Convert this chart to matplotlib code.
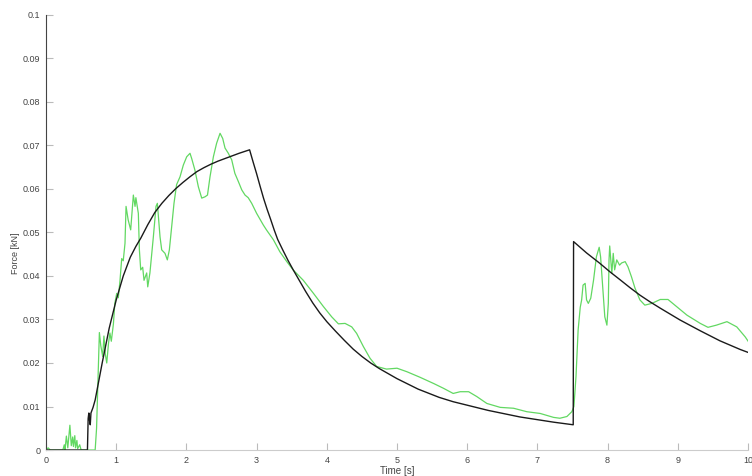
import numpy as np
import matplotlib
matplotlib.use("Agg")
import matplotlib.pyplot as plt

plt.rcParams['font.family'] = ['Liberation Sans', 'DejaVu Sans']

# reference (model) force, black
t_model = [0, 0.59, 0.60, 0.61, 0.62, 0.63, 0.64, 0.67, 0.70, 0.80, 0.90, 1.00,
           1.10, 1.20, 1.28, 1.35, 1.45, 1.55, 1.65, 1.75, 1.85, 1.95, 2.05,
           2.15, 2.25, 2.35, 2.45, 2.55, 2.65, 2.75, 2.90,
           2.95, 3.00, 3.05, 3.10, 3.15, 3.20, 3.25, 3.30, 3.375, 3.45, 3.525,
           3.60, 3.70, 3.80, 3.90, 4.00, 4.125, 4.25, 4.375, 4.50, 4.625, 4.75,
           5.00, 5.30, 5.60, 5.80, 6.30, 6.75, 7.23, 7.51, 7.515,
           7.70, 7.89, 8.03, 8.18, 8.32, 8.46, 8.60, 8.75, 9.03, 9.32, 9.60,
           9.89, 10.04]
f_model = [0, 0, 0.0072, 0.0085, 0.0068, 0.0058, 0.0085, 0.0098, 0.0115, 0.0200,
           0.0280, 0.0345, 0.0400, 0.0443, 0.0468, 0.0487, 0.0518, 0.0546,
           0.0567, 0.0585, 0.0601, 0.0615, 0.0628, 0.0640, 0.0649, 0.0657,
           0.0664, 0.0670, 0.0676, 0.0682, 0.0690,
           0.0662, 0.0635, 0.0606, 0.0578, 0.0553, 0.0530, 0.0506, 0.0484,
           0.0459, 0.0435, 0.0413, 0.0392, 0.0364, 0.0338, 0.0315, 0.0295,
           0.0273, 0.0252, 0.0232, 0.0215, 0.0200, 0.0187,
           0.0164, 0.0140, 0.0121, 0.0111, 0.0091, 0.0076, 0.0064, 0.0058, 0.0479,
           0.0453, 0.0429, 0.0410, 0.0391, 0.0373, 0.0356, 0.0341, 0.0326,
           0.0299, 0.0274, 0.0251, 0.0231, 0.0222]

# measured force, green
t_meas = [0.00, 0.03, 0.06, 0.24, 0.26, 0.27, 0.29, 0.31, 0.34, 0.36, 0.38, 0.39,
          0.41, 0.42, 0.44, 0.45, 0.48, 0.50, 0.70, 0.72, 0.745, 0.76, 0.78,
          0.807, 0.825, 0.845, 0.865, 0.89, 0.91, 0.93, 0.96, 0.98, 1.007,
          1.03, 1.054, 1.078, 1.10, 1.125, 1.14, 1.17, 1.206, 1.244, 1.268,
          1.28, 1.315, 1.33, 1.349, 1.377, 1.396, 1.434, 1.449, 1.48, 1.529,
          1.567, 1.586, 1.624, 1.648, 1.695, 1.728, 1.757, 1.79, 1.823, 1.86,
          1.909, 1.956, 2.004, 2.051, 2.075, 2.12, 2.17, 2.218, 2.265, 2.30,
          2.336, 2.384, 2.43, 2.479, 2.517, 2.55, 2.597, 2.645, 2.69, 2.74,
          2.788, 2.835, 2.88, 2.93, 3.00, 3.096, 3.14, 3.24, 3.33, 3.43, 3.52,
          3.665, 3.81, 3.95, 4.07, 4.165, 4.26, 4.355, 4.425, 4.52, 4.615,
          4.71, 4.85, 5.00, 5.14, 5.33, 5.52, 5.66, 5.80, 5.90, 6.02, 6.135,
          6.28, 6.47, 6.66, 6.85, 7.04, 7.23, 7.32, 7.42, 7.49, 7.52, 7.55,
          7.58, 7.61, 7.63, 7.65, 7.68, 7.70, 7.725, 7.76, 7.80, 7.84, 7.88,
          7.90, 7.93, 7.96, 7.99, 8.01, 8.02, 8.03, 8.06, 8.08, 8.10, 8.13,
          8.17, 8.20, 8.25, 8.29, 8.34, 8.39, 8.46, 8.53, 8.63, 8.75, 8.86,
          8.98, 9.13, 9.32, 9.43, 9.55, 9.70, 9.84, 9.96, 10.04]
f_meas = [0.0000, 0.0005, 0.0000, 0.0000, 0.0012, 0.0000, 0.0032, 0.0005,
          0.0057, 0.0010, 0.0030, 0.0008, 0.0033, 0.0005, 0.0022, 0.0003,
          0.0012, 0.0000, 0.0000, 0.0050, 0.0184, 0.0270, 0.0240, 0.0215,
          0.0262, 0.0220, 0.0200, 0.0245, 0.0269, 0.0250, 0.0290, 0.0337,
          0.0360, 0.0350, 0.0390, 0.0440, 0.0435, 0.0475, 0.0560, 0.0529,
          0.0506, 0.0586, 0.0560, 0.0580, 0.0544, 0.0460, 0.0414, 0.0420,
          0.0390, 0.0407, 0.0375, 0.0407, 0.0490, 0.0560, 0.0567, 0.0490,
          0.0460, 0.0452, 0.0437, 0.0460, 0.0513, 0.0567, 0.0610, 0.0628,
          0.0655, 0.0674, 0.0682, 0.0670, 0.0644, 0.0605, 0.0579, 0.0582,
          0.0586, 0.0628, 0.0674, 0.0705, 0.0728, 0.0716, 0.0694, 0.0682,
          0.0667, 0.0636, 0.0617, 0.0598, 0.0586, 0.0580, 0.0567, 0.0544,
          0.0517, 0.0506, 0.0483, 0.0456, 0.0433, 0.0414, 0.0390, 0.0360,
          0.0330, 0.0306, 0.0290, 0.0291, 0.0283, 0.0268, 0.0238, 0.0211,
          0.0192, 0.0186, 0.0188, 0.0180, 0.0167, 0.0153, 0.0142, 0.0130,
          0.0134, 0.0134, 0.0123, 0.0107, 0.0098, 0.0096, 0.0088, 0.0084,
          0.0075, 0.0073, 0.0077, 0.0088, 0.0100, 0.0170, 0.0276, 0.0328,
          0.0345, 0.0379, 0.0383, 0.0345, 0.0337, 0.0349, 0.0391, 0.0444,
          0.0466, 0.0444, 0.0375, 0.0306, 0.0287, 0.0337, 0.0437, 0.0469,
          0.0406, 0.0452, 0.0414, 0.0437, 0.0425, 0.0430, 0.0433, 0.0421,
          0.0398, 0.0372, 0.0345, 0.0333, 0.0337, 0.0346, 0.0346, 0.0330,
          0.0310, 0.0291, 0.0282, 0.0287, 0.0295, 0.0283, 0.0260, 0.0241]

x_ticks = np.arange(0, 11, 1)
y_ticks = np.arange(0, 0.11, 0.01)
y_tick_labels = ['0', '0.01', '0.02', '0.03', '0.04', '0.05', '0.06', '0.07',
                 '0.08', '0.09', '0.1']

fig = plt.figure(figsize=(7.52, 4.76), dpi=100)
ax = fig.add_axes([0.0612, 0.0546, 0.9335, 0.914])

ax.plot(t_meas, f_meas, color='#62d862', lw=0.9)
ax.plot(t_model, f_model, color='#1a1a1a', lw=1.0)

ax.set_xlim(0, 10)
ax.set_ylim(0, 0.1)
ax.set_xticks(x_ticks)
ax.set_xticklabels([str(v) for v in x_ticks])
ax.set_yticks(y_ticks)
ax.set_yticklabels(y_tick_labels)

ax.spines['top'].set_visible(False)
ax.spines['right'].set_visible(False)
ax.spines['left'].set_color('#444444')
ax.spines['bottom'].set_color('#cccccc')
ax.tick_params(direction='in', length=5, width=0.8, color='#bbbbbb',
               labelsize=6.5, labelcolor='#444444', pad=4)

ax.set_xlabel('Time [s]', fontsize=7, color='#444444')
ax.set_ylabel('Force [kN]', fontsize=6.5, color='#444444')
# put axis labels where the reference has them
ax.xaxis.set_label_coords(0.5, -0.036)
ax.yaxis.set_label_coords(-0.037, 0.452)

fig.savefig('out.png', dpi=100)
